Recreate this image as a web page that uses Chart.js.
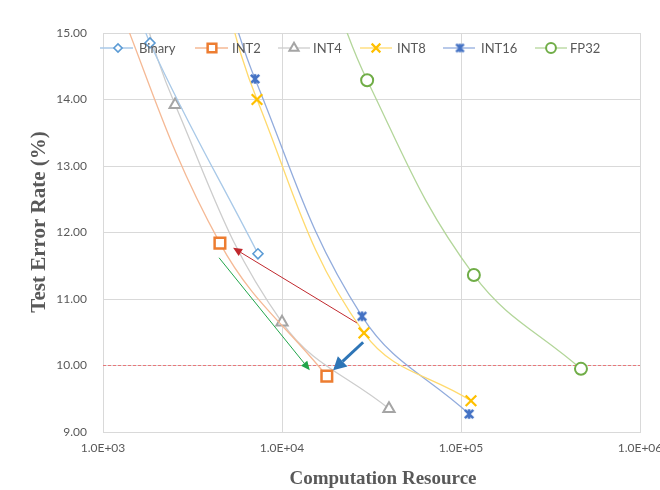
<!DOCTYPE html>
<html><head><meta charset="utf-8">
<script src="https://cdn.jsdelivr.net/npm/chart.js@4.4.1/dist/chart.umd.min.js"></script>
<style>html,body{margin:0;padding:0;background:#fff;overflow:hidden;width:660px;height:490px}canvas{display:block}</style>
</head><body>
<canvas id="c" width="700" height="490" style="width:700px;height:490px"></canvas>
<script>
// ---------- data ----------
const seriesNames = ['Binary', 'INT2', 'INT4', 'INT8', 'INT16', 'FP32'];
const xBinary = [1400, 1830, 7340];
const yBinary = [15.9, 14.85, 11.68];
const xINT2 = [1000, 4500, 17800];
const yINT2 = [16.0, 11.84, 9.84];
const xINT4 = [1400, 2530, 10000, 39600];
const yINT4 = [16.0, 13.92, 10.65, 9.35];
const xINT8 = [4300, 7250, 28700, 113700];
const yINT8 = [16.0, 14.0, 10.49, 9.47];
const xINT16 = [4400, 7070, 28000, 111000];
const yINT16 = [16.0, 14.31, 10.74, 9.27];
const xFP32 = [17000, 29900, 118000, 468000];
const yFP32 = [16.0, 14.29, 11.36, 9.95];
const thresholdY = 10.0;
const xTickValues = [1e3, 1e4, 1e5, 1e6];
const xTickLabels = ['1.0E+03', '1.0E+04', '1.0E+05', '1.0E+06'];
const yTickValues = [9, 10, 11, 12, 13, 14, 15];
const yTickLabels = ['9.00', '10.00', '11.00', '12.00', '13.00', '14.00', '15.00'];
const xTitle = 'Computation Resource';
const yTitle = 'Test Error Rate (%)';
// arrows (data coordinates)
const arrowFromX = [26200, 4450, 28400];
const arrowFromY = [10.64, 11.62, 10.35];
const arrowToX = [5330, 14300, 19300];
const arrowToY = [11.77, 9.93, 9.93];

// ---------- styles ----------
const xs = [xBinary, xINT2, xINT4, xINT8, xINT16, xFP32];
const ys = [yBinary, yINT2, yINT4, yINT8, yINT16, yFP32];
const markerColors = ['#5b9bd5', '#ed7d31', '#a5a5a5', '#ffc000', '#4472c4', '#70ad47'];
const lineColors = ['#a9c9e8', '#f5b995', '#cdcdcd', '#ffda6e', '#92acdd', '#b3d69a'];
const radii = [5, 7.5, 6.5, 7.5, 6, 6];
const borderWidths = [1.6, 2.5, 2, 2.2, 2, 2];
const arrowColors = ['#c0282d', '#21a54a', '#2e75b6'];
const arrowWidths = [1, 1, 3];
const arrowHeads = [[9, 4], [9, 4], [13, 7]];
const textGray = '#595959';
const gridGray = '#d9d9d9';

function starImage(size, color, lw) {
  const c = document.createElement('canvas');
  c.width = size; c.height = size;
  const g = c.getContext('2d');
  g.strokeStyle = color; g.lineWidth = lw; g.lineCap = 'butt';
  const m = lw / 2 + 0.5, s = size - m;
  g.beginPath();
  g.moveTo(m, m); g.lineTo(s, s);
  g.moveTo(s, m); g.lineTo(m, s);
  g.moveTo(size / 2, m - 0.5); g.lineTo(size / 2, s + 0.5);
  g.stroke();
  return c;
}
const int16Star = starImage(12, '#4472c4', 2.6);
const int16StarSmall = starImage(11, '#4472c4', 2.4);
const pointStyles = ['rectRot', 'rect', 'triangle', 'crossRot', int16Star, 'circle'];
const legendPointStyles = ['rectRot', 'rect', 'triangle', 'crossRot', int16StarSmall, 'circle'];

const datasets = seriesNames.map((name, i) => ({
  label: name,
  data: xs[i].map((x, k) => ({ x: x, y: ys[i][k] })),
  borderColor: lineColors[i],
  borderWidth: 1.3,
  backgroundColor: '#ffffff',
  pointStyle: pointStyles[i],
  pointRadius: radii[i],
  pointBorderColor: markerColors[i],
  pointBackgroundColor: '#ffffff',
  pointBorderWidth: borderWidths[i],
  tension: 0.4,
  fill: false,
  order: i
}));
datasets.push({
  label: 'threshold',
  data: [{ x: xTickValues[0], y: thresholdY }, { x: xTickValues[xTickValues.length - 1], y: thresholdY }],
  borderColor: '#e8777a',
  borderWidth: 1,
  borderDash: [3, 2],
  pointRadius: 0,
  tension: 0,
  fill: false,
  order: 10
});

// ---------- plugins ----------
const legendPos = [
  { l0: 100, l1: 133, m: 118, t: 139 },
  { l0: 195, l1: 228, m: 212, t: 232 },
  { l0: 278, l1: 310, m: 294, t: 313 },
  { l0: 360, l1: 392, m: 376, t: 397 },
  { l0: 443, l1: 475, m: 460, t: 481 },
  { l0: 535, l1: 567, m: 551, t: 570 }
];
const legendY = 48;

const overlay = {
  id: 'overlay',
  afterDatasetsDraw(chart) {
    const ctx = chart.ctx;
    const xs_ = chart.scales.x, ys_ = chart.scales.y;
    for (let i = 0; i < arrowFromX.length; i++) {
      const x0 = xs_.getPixelForValue(arrowFromX[i]), y0 = ys_.getPixelForValue(arrowFromY[i]);
      const x1 = xs_.getPixelForValue(arrowToX[i]), y1 = ys_.getPixelForValue(arrowToY[i]);
      const ang = Math.atan2(y1 - y0, x1 - x0);
      const [hl, hw] = arrowHeads[i];
      const bx = x1 - Math.cos(ang) * hl, by = y1 - Math.sin(ang) * hl;
      ctx.save();
      ctx.strokeStyle = arrowColors[i]; ctx.fillStyle = arrowColors[i];
      ctx.lineWidth = arrowWidths[i];
      ctx.beginPath(); ctx.moveTo(x0, y0); ctx.lineTo(bx, by); ctx.stroke();
      ctx.beginPath();
      ctx.moveTo(x1, y1);
      ctx.lineTo(bx + Math.sin(ang) * hw, by - Math.cos(ang) * hw);
      ctx.lineTo(bx - Math.sin(ang) * hw, by + Math.cos(ang) * hw);
      ctx.closePath(); ctx.fill();
      ctx.restore();
    }
  },
  afterDraw(chart) {
    const ctx = chart.ctx;
    ctx.save();
    ctx.font = '13px Lato';
    ctx.textBaseline = 'middle';
    ctx.textAlign = 'left';
    seriesNames.forEach((name, i) => {
      const p = legendPos[i];
      ctx.strokeStyle = lineColors[i]; ctx.lineWidth = 1.3;
      ctx.beginPath(); ctx.moveTo(p.l0, legendY); ctx.lineTo(p.l1, legendY); ctx.stroke();
      ctx.fillStyle = '#ffffff'; ctx.strokeStyle = markerColors[i]; ctx.lineWidth = borderWidths[i];
      Chart.helpers.drawPoint(ctx, { pointStyle: legendPointStyles[i], radius: radii[i] * 0.82, borderWidth: borderWidths[i], rotation: 0 }, p.m, legendY);
      ctx.fillStyle = textGray;
      ctx.fillText(name, p.t, legendY + 0.5);
    });
    ctx.restore();
    ctx.save();
    ctx.fillStyle = textGray;
    ctx.textAlign = 'center';
    ctx.textBaseline = 'middle';
    ctx.font = 'bold 19px "Liberation Serif"';
    ctx.fillText(xTitle, 383, 479);
    ctx.translate(40, 222);
    ctx.rotate(-Math.PI / 2);
    ctx.font = 'bold 21px "Liberation Serif"';
    ctx.fillText(yTitle, 0, 0);
    ctx.restore();
  }
};

new Chart(document.getElementById('c'), {
  type: 'line',
  data: { datasets: datasets },
  plugins: [overlay],
  options: {
    responsive: false,
    devicePixelRatio: 1,
    animation: false,
    layout: { padding: { left: 0, right: 60, top: 33, bottom: 0 } },
    elements: { line: { capBezierPoints: false } },
    plugins: { legend: { display: false }, tooltip: { enabled: false } },
    scales: {
      x: {
        type: 'logarithmic',
        min: xTickValues[0],
        max: xTickValues[xTickValues.length - 1],
        afterBuildTicks: s => { s.ticks = xTickValues.map(v => ({ value: v })); },
        afterFit: s => { s.height = 58; },
        ticks: {
          autoSkip: false, maxRotation: 0, minRotation: 0, padding: 9,
          color: textGray, font: { family: 'Lato', size: 12 },
          callback: v => xTickLabels[xTickValues.indexOf(v)]
        },
        grid: { color: gridGray, lineWidth: 1, drawTicks: false },
        border: { color: gridGray, width: 1 }
      },
      y: {
        min: yTickValues[0],
        max: yTickValues[yTickValues.length - 1],
        afterBuildTicks: s => { s.ticks = yTickValues.map(v => ({ value: v })); },
        afterFit: s => { s.width = 103; },
        ticks: {
          padding: 16, color: textGray, font: { family: 'Lato', size: 12 },
          callback: v => yTickLabels[yTickValues.indexOf(v)]
        },
        grid: { color: gridGray, lineWidth: 1, drawTicks: false },
        border: { color: gridGray, width: 1 }
      }
    }
  }
});
</script>
</body></html>
